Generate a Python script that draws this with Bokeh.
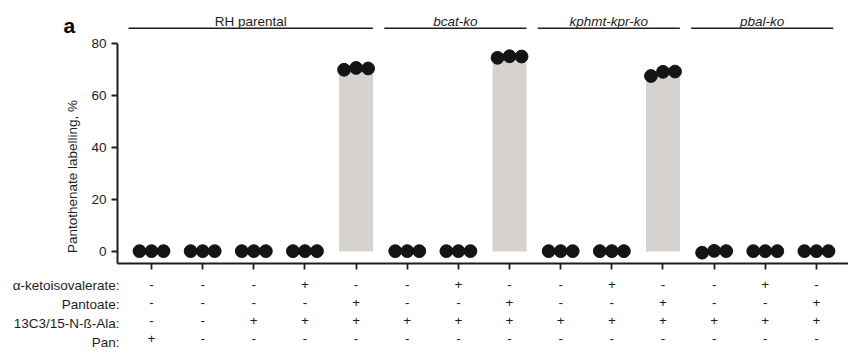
import math
from bokeh.plotting import figure
from bokeh.models import Range1d, FixedTicker
from bokeh.core.properties import value
from bokeh.embed import file_html
from bokeh.resources import INLINE

# ---------------- data ----------------
categories = list(range(14))
replicates = [
    [0.1, 0.1, 0.1],
    [0.1, 0.1, 0.1],
    [0.1, 0.1, 0.1],
    [0.1, 0.1, 0.1],
    [69.9, 70.6, 70.4],
    [0.1, 0.1, 0.1],
    [0.1, 0.1, 0.1],
    [74.5, 75.1, 75.0],
    [0.1, 0.1, 0.1],
    [0.1, 0.1, 0.1],
    [67.5, 69.1, 69.2],
    [-0.5, 0.2, 0.1],
    [0.1, 0.1, 0.1],
    [0.1, 0.1, 0.1],
]
group_names = ["RH parental", "bcat-ko", "kphmt-kpr-ko", "pbal-ko"]
group_first = [0, 5, 8, 11]
group_last = [4, 7, 10, 13]
group_style = ["normal", "italic", "italic", "italic"]

row_labels = ["α-ketoisovalerate:", "Pantoate:", "13C3/15-N-ß-Ala:", "Pan:"]
row_ketoisovalerate = ["-", "-", "-", "+", "-", "-", "+", "-", "-", "+", "-", "-", "+", "-"]
row_pantoate = ["-", "-", "-", "-", "+", "-", "-", "+", "-", "-", "+", "-", "-", "+"]
row_ala = ["-", "-", "+", "+", "+", "+", "+", "+", "+", "+", "+", "+", "+", "+"]
row_pan = ["+", "-", "-", "-", "-", "-", "-", "-", "-", "-", "-", "-", "-", "-"]
y_ticks = [0, 20, 40, 60, 80]
y_title = "Pantothenate labelling, %"
panel_letter = "a"

# ---------------- styling / layout ----------------
FONT = value("Liberation Sans")
FS = value("13.5px")
INK = "#1e1e1e"
BAR = "#d6d2cf"
X_START, X_END = -0.665, 13.627
Y_START, Y_END = -4.66, 80
DOT_OFFS = [-0.235, 0.0, 0.235]

p = figure(width=848, height=358, output_backend="svg", toolbar_location=None,
           x_range=Range1d(X_START, X_END), y_range=Range1d(Y_START, Y_END),
           min_border_left=117, min_border_right=0, min_border_top=43,
           min_border_bottom=95)
p.outline_line_color = None
p.xgrid.visible = False
p.ygrid.visible = False
p.background_fill_color = "white"
p.border_fill_color = "white"

means = [sum(r) / len(r) for r in replicates]

# bars
p.vbar(x=categories, top=means, bottom=0, width=0.665,
       fill_color=BAR, line_color=None)

# mean line joining dots
p.segment(x0=[c + DOT_OFFS[0] for c in categories], x1=[c + DOT_OFFS[-1] for c in categories],
          y0=means, y1=means, line_color="#555555", line_width=1.5)

# dots
xs, ys = [], []
for c, reps in zip(categories, replicates):
    for off, v in zip(DOT_OFFS, reps):
        xs.append(c + off)
        ys.append(v)
p.scatter(xs, ys, size=12.8, fill_color="#141414", line_color="#141414")

# axes
for ax in (p.xaxis[0], p.yaxis[0]):
    ax.axis_line_width = 2
    ax.axis_line_color = INK
    ax.major_tick_line_width = 1.8
    ax.major_tick_line_color = INK
    ax.major_tick_out = 6
    ax.major_tick_in = 0
    ax.minor_tick_line_color = None

rows = [row_ketoisovalerate, row_pantoate, row_ala, row_pan]
p.xaxis.ticker = FixedTicker(ticks=categories)
p.xaxis.major_label_overrides = {c: "\n".join(r[c] for r in rows) for c in categories}
p.xaxis.major_label_text_font = "Liberation Sans"
p.xaxis.major_label_text_font_size = "13.5px"
p.xaxis.major_label_text_color = INK
p.xaxis.major_label_standoff = 7

p.yaxis.ticker = FixedTicker(ticks=y_ticks)
p.yaxis.major_label_text_font = "Liberation Sans"
p.yaxis.major_label_text_font_size = "13.5px"
p.yaxis.major_label_text_color = INK
p.yaxis.major_label_standoff = 5

# ---- texts outside the frame (overlay level) ----
PX = 51.15      # px per x unit
PY = 2.5986     # px per y unit
ZERO = 250.9    # px of y=0

def ydata(py):
    return (ZERO - py) / PY

# y title
p.text(x=[-1.545], y=[ydata(176)], text=[y_title], angle=math.pi / 2,
       text_font=FONT, text_font_size=FS, text_color=INK,
       text_align="center", text_baseline="middle", level="overlay")

# panel letter
p.text(x=[-1.72], y=[ydata(25)], text=[panel_letter], text_font=FONT,
       text_font_size=value("21px"), text_font_style="bold", text_color="black",
       text_align="left", text_baseline="alphabetic", level="overlay")

# group lines and labels
gx0 = [f - 0.45 for f in group_first]
gx1 = [l + 0.33 for l in group_last]
p.segment(x0=gx0, x1=gx1, y0=[ydata(27.7)] * 4, y1=[ydata(27.7)] * 4,
          line_color=INK, line_width=1.6, level="overlay")
for name, a, b, st in zip(group_names, gx0, gx1, group_style):
    p.text(x=[(a + b) / 2], y=[ydata(21)], text=[name], text_font=FONT,
           text_font_size=FS, text_font_style=st, text_color=INK,
           text_align="center", text_baseline="alphabetic", level="overlay")

# condition table row labels
for i, lab in enumerate(row_labels):
    yy = ydata(285.5 + 18.8 * i)
    p.text(x=[(119 - 151) / PX], y=[yy], text=[lab], text_font=FONT,
           text_font_size=FS, text_color=INK, text_align="right",
           text_baseline="middle", level="overlay")

open("out.html", "w").write(file_html(p, INLINE))
